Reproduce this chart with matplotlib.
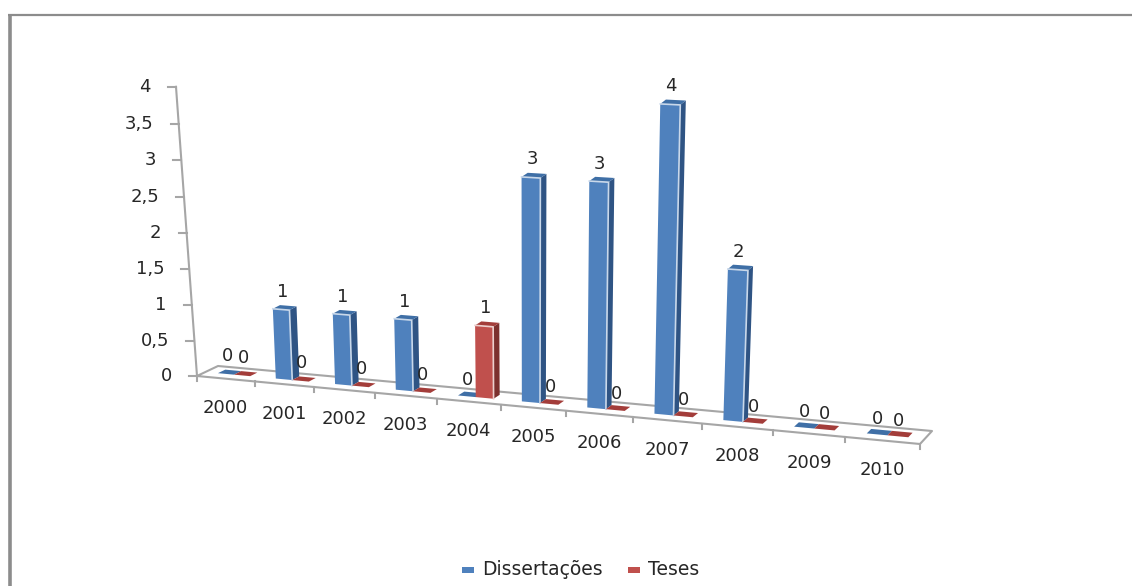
import numpy as np
import matplotlib
matplotlib.use("Agg")
import matplotlib.pyplot as plt
from matplotlib.patches import Rectangle

years = ["2000", "2001", "2002", "2003", "2004", "2005", "2006", "2007", "2008", "2009", "2010"]
dissertacoes = [0, 1, 1, 1, 0, 3, 3, 4, 2, 0, 0]
teses = [0, 0, 0, 0, 1, 0, 0, 0, 0, 0, 0]
y_ticks = [0, 0.5, 1, 1.5, 2, 2.5, 3, 3.5, 4]
y_tick_labels = ["0", "0,5", "1", "1,5", "2", "2,5", "3", "3,5", "4"]
series_names = ["Dissertações", "Teses"]

C_FRONT = ["#4f81bd", "#c0504d"]
C_TOP = ["#3f6fa6", "#a33d3a"]
C_SIDE = ["#2f5484", "#7c302e"]
C_EDGE = ["#c9d8ea", "#ecd0ce"]
C_AXIS = "#a6a6a6"
C_TEXT = "#262626"

# oblique 3D view: floor corners, in pixels
FL, FR = np.array([197.0, 376.0]), np.array([920.0, 444.0])
BL, BR = np.array([218.0, 366.0]), np.array([932.0, 431.0])
PERSP = 1.15
N = len(years)
D0, D1 = 0.40, 0.75     # depth of the bars on the floor
BW = 0.28               # bar width, in category units
GAP = 0.22


def floor(u, d=0.0):
    s = u / N
    t = s / (s + (1 - s) * PERSP)
    return (FL + (FR - FL) * t) * (1 - d) + (BL + (BR - BL) * t) * d


def project(u, d, v):
    x, y = floor(u, d)
    h = 71 * v + 1.3 * v ** 2 + 0.01 * (x - 530) * v
    lean = 0.0117 * (x - 530) * v
    return np.array([x + lean, y - h])


def wall(v):
    y = FL[1] - (70.5 * v + 0.45 * v ** 2)
    x = FL[0] - 5.25 * v
    return np.array([x, y])


fig = plt.figure(figsize=(11.32, 5.86), dpi=100, facecolor="white")
ax = fig.add_axes([0, 0, 1, 1])
ax.set_xlim(0, 1132)
ax.set_ylim(586, 0)
ax.axis("off")

# outer frame
ax.plot([9.5, 9.5], [15, 586], color="#8c8c8c", lw=2.6, solid_capstyle="butt")
ax.plot([8, 1132], [15, 15], color="#8c8c8c", lw=1.6, solid_capstyle="butt")

# floor outline
outline = np.array([FL, BL, BR, FR, FL])
ax.plot(outline[:, 0], outline[:, 1], color=C_AXIS, lw=1.5, zorder=1)
for i in range(N + 1):
    p = floor(i)
    ax.plot([p[0], p[0]], [p[1], p[1] + 5], color=C_AXIS, lw=1.5, zorder=1)
for i, lab in enumerate(years):
    p = floor(i + 0.5)
    ax.text(p[0], p[1] + 29.5, lab, ha="center", va="center", fontsize=13, color=C_TEXT)

# value axis
pa, pb = wall(0), wall(max(y_ticks))
ax.plot([pa[0], pb[0]], [pa[1], pb[1]], color=C_AXIS, lw=1.5, zorder=1)
for v, lab in zip(y_ticks, y_tick_labels):
    p = wall(v)
    ax.plot([p[0] - 8, p[0]], [p[1], p[1]], color=C_AXIS, lw=1.5, zorder=1)
    ax.text(p[0] - 25, p[1], lab, ha="right", va="center", fontsize=13, color=C_TEXT)


def bar(i, k, v, z):
    u0 = i + GAP + k * BW
    u1 = u0 + BW
    top = [project(u0, D0, v), project(u1, D0, v), project(u1, D1, v), project(u0, D1, v)]
    if v > 0:
        front = [project(u0, D0, 0), project(u1, D0, 0), top[1], top[0]]
        side = [project(u1, D0, 0), project(u1, D1, 0), top[2], top[1]]
        ax.fill(*zip(*side), color=C_SIDE[k], lw=0, zorder=z)
        ax.fill(*zip(*front), color=C_FRONT[k], lw=0, zorder=z)
        ax.plot(*zip(top[0], top[1], front[1]), color=C_EDGE[k], lw=1.2, zorder=z + 0.1)
    ax.fill(*zip(*top), color=C_TOP[k], lw=0, zorder=z)
    c = np.mean(top, axis=0)
    lift = 16 if v > 0 else 16 - 0.3 * i
    ax.text(c[0] - 2, c[1] - lift, str(v), ha="center", va="center", fontsize=13,
            color=C_TEXT, zorder=50)


for i in range(N):
    bar(i, 0, dissertacoes[i], 3 + 2 * i)
    bar(i, 1, teses[i], 4 + 2 * i)

# legend
for k, (x0, tx) in enumerate(zip([462, 628], [482, 648])):
    ax.add_patch(Rectangle((x0, 567), 12, 6, color=C_FRONT[k], lw=0))
    ax.text(tx, 569.5, series_names[k], ha="left", va="center", fontsize=13.5, color=C_TEXT)

fig.savefig("out.png", dpi=100)
